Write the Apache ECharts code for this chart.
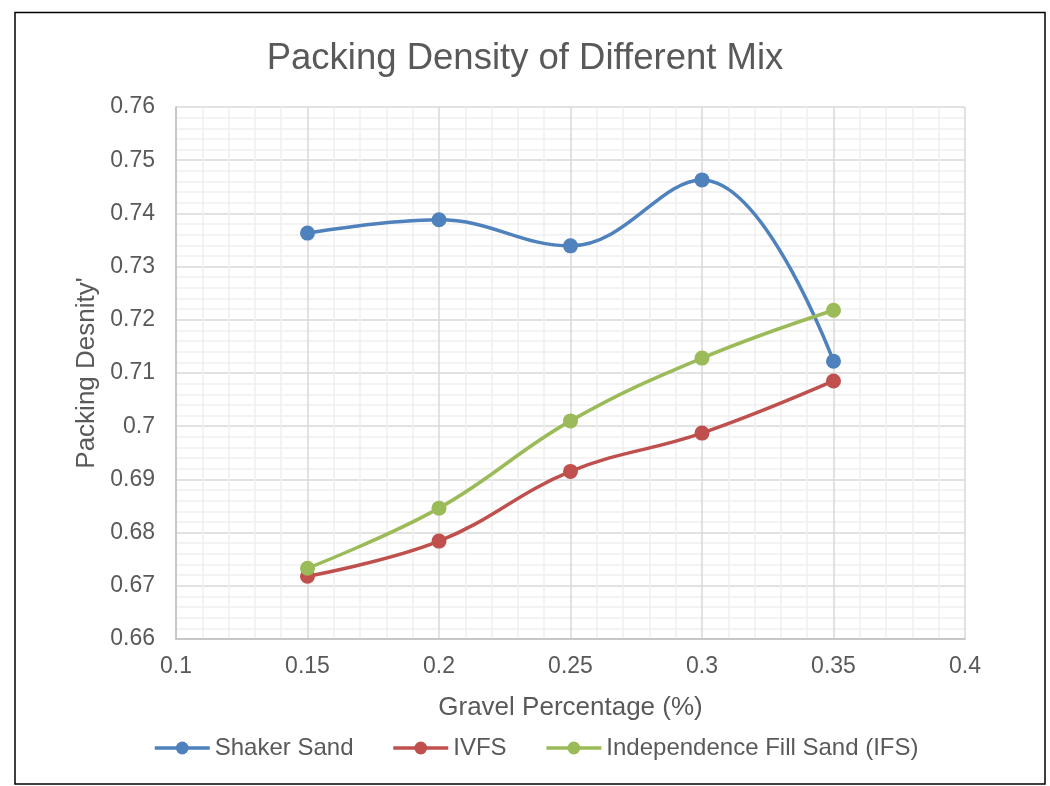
<!DOCTYPE html>
<html>
<head>
<meta charset="utf-8">
<script src="https://cdn.jsdelivr.net/npm/echarts@6/dist/echarts.min.js"></script>
<style>
html,body{margin:0;padding:0;background:#fff;}
#c{width:1050px;height:786px;}
</style>
</head>
<body>
<div id="c"></div>
<script>
const xValues = [0.15, 0.2, 0.25, 0.3, 0.35];
const shakerSand = [0.7363, 0.7388, 0.7339, 0.7463, 0.7122];
const ivfs = [0.6718, 0.6784, 0.6915, 0.6987, 0.7085];
const ifs = [0.6733, 0.6846, 0.7010, 0.7128, 0.7218];
const seriesNames = ['Shaker Sand', 'IVFS', 'Independence Fill Sand (IFS)'];
const colors = ['#4F81BD', '#C0504D', '#9BBB59'];

const font = 'Liberation Sans, Arial, sans-serif';
const chart = echarts.init(document.getElementById('c'));
function mk(name, vals, color) {
  return {
    name: name, type: 'line', smooth: 0.4,
    data: xValues.map((x, i) => [x, vals[i]]),
    symbol: 'circle', symbolSize: 15,
    lineStyle: {width: 3.5, color: color},
    itemStyle: {color: color},
    z: 3
  };
}
chart.setOption({
  animation: false,
  backgroundColor: '#fff',
  title: {
    text: 'Packing Density of Different Mix',
    left: 'center', top: 35,
    textStyle: {fontFamily: font, fontSize: 36.5, fontWeight: 'normal', color: '#595959'}
  },
  graphic: [{
    type: 'rect', shape: {x: 15, y: 12.5, width: 1030, height: 771.5},
    style: {fill: 'none', stroke: '#000', lineWidth: 1.5}, silent: true
  }],
  legend: {
    bottom: 21, left: 148, itemGap: 38, itemWidth: 55, itemHeight: 16,
    data: seriesNames,
    lineStyle: {width: 3.5},
    textStyle: {fontFamily: font, fontSize: 24, color: '#595959', padding: [0, 0, 0, 0]}
  },
  grid: {left: 176, right: 85, top: 107, bottom: 147},
  xAxis: {
    type: 'value', min: 0.1, max: 0.4, interval: 0.05,
    name: 'Gravel Percentage (%)', nameLocation: 'middle', nameGap: 56,
    nameTextStyle: {fontFamily: font, fontSize: 26, color: '#595959'},
    axisLine: {show: true, lineStyle: {color: '#bfbfbf', width: 1.5}},
    axisTick: {show: false},
    axisLabel: {margin: 16, fontFamily: font, fontSize: 23, color: '#595959',
      formatter: v => String(Math.round(v * 100) / 100)},
    splitLine: {show: true, lineStyle: {color: '#d9d9d9', width: 1.5}},
    minorTick: {show: false, splitNumber: 5},
    minorSplitLine: {show: true, lineStyle: {color: '#efefef', width: 1.5}}
  },
  yAxis: {
    type: 'value', min: 0.66, max: 0.76, interval: 0.01,
    name: "Packing Desnity'", nameLocation: 'middle', nameGap: 71,
    nameTextStyle: {fontFamily: font, fontSize: 26, color: '#595959'},
    axisLine: {show: true, lineStyle: {color: '#bfbfbf', width: 1.5}},
    axisTick: {show: false},
    axisLabel: {margin: 21, fontFamily: font, fontSize: 23, color: '#595959',
      formatter: v => String(Math.round(v * 100) / 100)},
    splitLine: {show: true, lineStyle: {color: '#d9d9d9', width: 1.5}},
    minorTick: {show: false, splitNumber: 5},
    minorSplitLine: {show: true, lineStyle: {color: '#efefef', width: 1.5}}
  },
  series: [mk(seriesNames[0], shakerSand, colors[0]), mk(seriesNames[1], ivfs, colors[1]), mk(seriesNames[2], ifs, colors[2])]
});
</script>
</body>
</html>
